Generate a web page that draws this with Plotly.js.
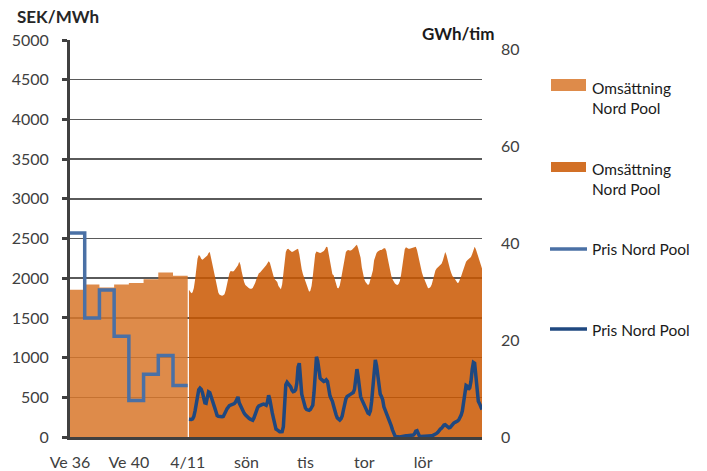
<!DOCTYPE html>
<html>
<head>
<meta charset="utf-8">
<script src="https://cdn.plot.ly/plotly-3.0.1.min.js"></script>
<style>html,body{margin:0;padding:0;background:#fff}</style>
</head>
<body>
<div id="chart" style="width:707px;height:471px"></div>
<script>
// ---- Data ----
const weeks = ["Ve 36","Ve 37","Ve 38","Ve 39","Ve 40","Ve 41","Ve 42","Ve 43"];
const weekVolume = [30.4, 31.5, 30.9, 31.5, 31.8, 32.6, 34.0, 33.3];      // GWh/tim
const weekPrice  = [2570, 1500, 1850, 1270, 460, 790, 1025, 650];          // SEK/MWh

const tickLabels = ["Ve 36","Ve 40","4/11","sön","tis","tor","lör"];

// hourly from 4/11, 10 days x 24 h
const hourlyVolume = [
 30.4,30.0,29.7,29.9,30.8,32.5,34.8,36.8,37.6,37.4,36.8,36.6,36.8,37.0,37.2,37.5,38.0,38.2,37.0,35.8,34.2,32.8,31.6,30.6,
 29.8,29.4,29.3,29.2,29.3,29.5,30.3,31.6,32.8,33.8,34.3,34.3,34.2,34.4,34.7,35.0,35.5,36.2,35.6,34.2,33.0,32.0,31.4,31.1,
 30.9,30.7,30.6,30.6,30.8,31.2,31.8,32.6,33.4,33.8,34.0,34.3,34.5,34.7,35.0,35.5,35.9,36.3,36.0,34.9,34.0,33.2,32.6,32.2,
 32.0,31.2,30.7,30.5,31.5,34.0,36.8,38.2,38.8,38.9,38.6,38.3,38.2,38.3,38.4,38.6,38.8,38.9,37.8,35.6,34.6,33.6,32.8,32.0,
 31.2,30.5,30.0,30.2,31.2,33.2,35.8,37.8,38.3,38.2,38.0,38.0,38.1,38.2,38.4,38.8,39.3,39.2,37.8,36.0,34.6,33.6,33.4,32.4,
 31.5,30.8,30.7,31.3,32.6,34.2,35.8,37.4,38.2,38.5,38.6,38.5,38.5,38.7,38.9,39.2,39.5,39.7,39.0,38.0,37.0,35.0,33.4,32.6,
 32.0,31.6,31.4,31.6,32.4,33.4,34.4,36.5,37.5,38.0,38.3,38.5,38.6,38.6,38.8,39.0,39.0,38.4,37.0,35.5,34.3,33.3,32.6,32.0,
 31.7,31.5,31.4,31.6,32.2,33.5,35.6,37.8,38.8,39.2,39.0,38.9,38.9,39.0,39.1,39.2,39.3,39.3,38.6,37.4,36.0,35.0,34.0,33.2,
 32.6,32.0,31.2,30.7,30.8,31.0,31.5,32.6,33.6,34.4,34.8,35.1,35.4,35.5,35.8,36.4,37.4,38.2,37.6,36.4,35.5,34.6,33.8,33.2,
 33.0,32.6,32.1,31.8,31.9,32.4,33.2,34.0,34.8,35.6,36.2,36.5,36.7,36.9,37.2,37.8,38.6,39.3,38.8,37.9,37.0,36.2,35.4,34.8
];
const hourlyPrice = [
 225,222,222,228,260,330,440,550,595,615,600,560,470,430,425,480,570,560,520,460,410,370,320,270,
 260,255,255,255,258,280,320,355,380,395,403,405,410,420,440,470,505,430,390,355,325,300,280,260,
 245,235,225,215,212,240,290,340,370,390,400,405,410,415,405,400,440,525,470,360,300,230,160,100,
 90,72,67,66,68,130,400,660,690,675,655,630,590,570,575,595,680,880,930,690,540,480,410,365,
 345,338,335,345,370,400,560,900,1010,960,800,740,725,710,700,705,720,700,590,520,480,450,390,320,
 280,240,220,214,230,265,340,430,480,510,525,530,540,550,560,600,760,855,760,600,510,470,430,400,
 360,320,300,290,330,450,650,880,970,900,760,620,540,510,470,380,340,300,270,250,200,140,90,40,
 15,5,0,0,0,5,10,15,15,15,15,15,15,18,20,25,40,75,80,30,10,5,5,5,
 5,5,5,5,5,8,15,20,25,35,45,60,85,100,110,135,150,155,145,125,115,120,140,165,
 175,185,190,200,215,240,275,330,420,560,650,640,600,620,700,850,940,930,740,520,450,420,380,345
];

const seriesNames = ["Omsättning<br>Nord Pool","Omsättning<br>Nord Pool","Pris Nord Pool","Pris Nord Pool"];

// ---- Scale helpers (x in "slots": one week = one slot, one day = two slots) ----
const HOURS_PER_SLOT = 12;
const nW = weeks.length;
const weekX = weeks.map((_, i) => i).concat([nW]);
const weekVolStep = weekVolume.concat([weekVolume[nW - 1]]);
const weekPriceStep = weekPrice.concat([weekPrice[nW - 1]]);
const hourX = hourlyVolume.map((_, h) => nW + (h + 1) / HOURS_PER_SLOT);
const xMax = nW + hourlyVolume.length / HOURS_PER_SLOT;
const tickVals = tickLabels.map((_, i) => i * 4);

const C = {
  light: 'rgba(216,119,42,0.85)',
  dark: 'rgba(202,87,0,0.85)',
  blue1: '#4A70A5',
  blue2: '#1F4880',
  axis: '#404040',
  grid: '#5a5a5a',
  text: '#404040'
};
const FONT = "Lato, 'DejaVu Sans', sans-serif";

const traces = [
  {x: weekX, y: weekVolStep, type: 'scatter', mode: 'lines', line: {shape: 'hv', width: 0, color: C.light},
   fill: 'tozeroy', fillcolor: C.light, yaxis: 'y', name: 'Omsättning Nord Pool', hoverinfo: 'skip'},
  {x: hourX, y: hourlyVolume, type: 'scatter', mode: 'lines', line: {width: 0, color: C.dark},
   fill: 'tozeroy', fillcolor: C.dark, yaxis: 'y', name: 'Omsättning Nord Pool', hoverinfo: 'skip'},
  {x: weekX, y: weekPriceStep, type: 'scatter', mode: 'lines', line: {shape: 'hv', width: 3.5, color: C.blue1},
   yaxis: 'y2', name: 'Pris Nord Pool'},
  {x: hourX, y: hourlyPrice, type: 'scatter', mode: 'lines', line: {width: 3.5, color: C.blue2},
   yaxis: 'y2', name: 'Pris Nord Pool'}
];

// plot area geometry for the hand-placed legend (paper coords)
const plotL = 70, plotW = 412, plotB = 437, plotH = 397;
const px = v => (v - plotL) / plotW;
const py = v => (plotB - v) / plotH;

const legendRows = [
  {kind: 'rect', color: C.light, sy0: 79, sy1: 91, ty: 98},
  {kind: 'rect', color: C.dark, sy0: 162, sy1: 172, ty: 179},
  {kind: 'line', color: C.blue1, sy: 249, ty: 249},
  {kind: 'line', color: C.blue2, sy: 329, ty: 330}
];
const shapes = [];
const annotations = [];
legendRows.forEach((r, i) => {
  if (r.kind === 'rect') {
    shapes.push({type: 'rect', xref: 'paper', yref: 'paper', x0: px(551), x1: px(586), y0: py(r.sy1), y1: py(r.sy0),
      fillcolor: r.color, line: {width: 0}});
  } else {
    shapes.push({type: 'line', xref: 'paper', yref: 'paper', x0: px(550), x1: px(587), y0: py(r.sy), y1: py(r.sy),
      line: {color: r.color, width: 3.5}});
  }
  annotations.push({xref: 'paper', yref: 'paper', x: px(590), y: py(r.ty), xanchor: 'left', yanchor: 'middle',
    align: 'left', showarrow: false, text: seriesNames[i], font: {family: FONT, size: 15.5, color: '#1a1a1a'}});
});
annotations.push({xref: 'paper', yref: 'paper', x: px(15), y: py(17), xanchor: 'left', yanchor: 'middle',
  showarrow: false, text: '<b>SEK/MWh</b>', font: {family: FONT, size: 17, color: '#262626'}});
annotations.push({xref: 'paper', yref: 'paper', x: px(496), y: py(34), xanchor: 'right', yanchor: 'middle',
  showarrow: false, text: '<b>GWh/tim</b>', font: {family: FONT, size: 17, color: '#1a1a1a'}});

const tickFont = {family: FONT, size: 16, color: C.text};

const layout = {
  width: 707, height: 471,
  margin: {l: 70, r: 225, t: 40, b: 34, pad: 0},
  paper_bgcolor: '#ffffff', plot_bgcolor: '#ffffff',
  showlegend: false,
  font: {family: FONT},
  xaxis: {
    type: 'linear', range: [0, xMax], tickvals: tickVals, ticktext: tickLabels,
    showgrid: false, zeroline: false, showline: true, linecolor: C.axis, linewidth: 3,
    ticks: '', tickfont: tickFont, ticklabelstandoff: 9, fixedrange: true
  },
  yaxis: {
    range: [0, 82], dtick: 20, side: 'right', showgrid: false, zeroline: false, showline: false,
    ticks: '', tickfont: tickFont, ticklabelstandoff: 18, fixedrange: true
  },
  yaxis2: {
    range: [0, 5000], dtick: 500, side: 'left', overlaying: 'y', showgrid: true, gridcolor: C.grid, gridwidth: 1.5,
    zeroline: false, showline: true, linecolor: C.axis, linewidth: 3,
    ticks: 'outside', ticklen: 5, tickwidth: 3, tickcolor: C.axis, tickfont: tickFont, ticklabelstandoff: 10,
    fixedrange: true
  },
  shapes: shapes,
  annotations: annotations
};

Plotly.newPlot('chart', traces, layout, {displayModeBar: false, staticPlot: true});
</script>
</body>
</html>
